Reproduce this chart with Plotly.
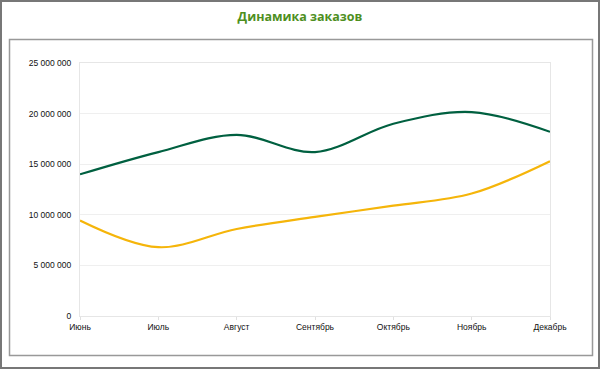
import plotly.graph_objects as go

months = ["Июнь", "Июль", "Август", "Сентябрь", "Октябрь", "Ноябрь", "Декабрь"]
series_green = [14000000, 16200000, 17900000, 16200000, 19000000, 20150000, 18200000]
series_yellow = [9440000, 6800000, 8600000, 9800000, 10900000, 12100000, 15300000]
y_ticks = [0, 5000000, 10000000, 15000000, 20000000, 25000000]
y_tick_labels = ["0", "5 000 000", "10 000 000", "15 000 000", "20 000 000", "25 000 000"]

fig = go.Figure()
fig.add_trace(go.Scatter(x=months, y=series_green, mode="lines",
                         line=dict(color="#006040", width=2.2, shape="spline", smoothing=1.0),
                         showlegend=False, hoverinfo="skip"))
fig.add_trace(go.Scatter(x=months, y=series_yellow, mode="lines",
                         line=dict(color="#f5b50a", width=2.2, shape="spline", smoothing=1.0),
                         showlegend=False, hoverinfo="skip"))

fig.update_layout(
    width=600, height=369,
    margin=dict(l=80, r=50, t=63, b=53),
    paper_bgcolor="white", plot_bgcolor="white",
    font=dict(family="Liberation Sans, Arial, sans-serif", size=8.5, color="#111"),
    title=dict(text="<b>Динамика заказов</b>", x=0.5, xref="container", xanchor="center",
               y=1 - 17 / 369, yref="container", yanchor="middle",
               font=dict(family="Open Sans, sans-serif", size=12.5, color="#4e8f1e")),
    xaxis=dict(range=[0, 6], showgrid=False, showline=True, linecolor="#e6e6e6", linewidth=1,
               mirror=True, ticks="outside", ticklen=3, tickcolor="#e0e0e0",
               tickfont=dict(size=8.5, color="#111"), zeroline=False, fixedrange=True),
    yaxis=dict(range=[0, 25000000], tickvals=y_ticks, ticktext=y_tick_labels,
               showgrid=True, gridcolor="#efefef", gridwidth=1, showline=True,
               linecolor="#e6e6e6", mirror=True, zeroline=False,
               tickfont=dict(size=8.5, color="#111"), ticklabelstandoff=6, fixedrange=True),
    shapes=[
        dict(type="rect", xref="paper", yref="paper",
             x0=-79 / 470, x1=(600 - 80 - 1) / 470,
             y0=(316 - 368) / 253, y1=(316 - 1) / 253,
             line=dict(color="#777", width=2), fillcolor="rgba(0,0,0,0)", layer="below"),
        dict(type="rect", xref="paper", yref="paper",
             x0=(9.5 - 80) / 470, x1=(592.5 - 80) / 470,
             y0=(316 - 355.5) / 253, y1=(316 - 39.5) / 253,
             line=dict(color="#999", width=1.5), fillcolor="rgba(0,0,0,0)", layer="below"),
    ],
)

fig.write_html("out.html", config={"displayModeBar": False},
               post_script="document.body.style.margin='0';document.body.style.padding='0';")
